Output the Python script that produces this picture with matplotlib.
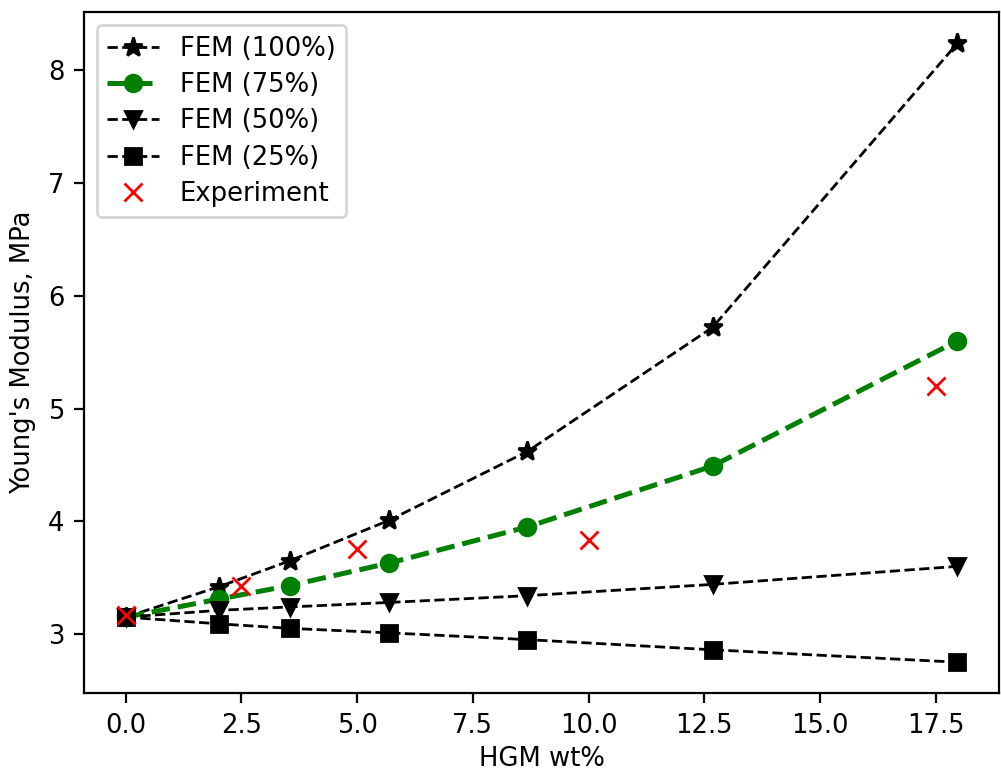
import matplotlib
matplotlib.use("Agg")
import matplotlib.pyplot as plt

# HGM content (wt%) for the FEM runs
x_fem = [0, 2.02, 3.55, 5.7, 8.68, 12.68, 17.97]

# FEM predictions of Young's modulus (MPa)
fem_100 = [3.15, 3.42, 3.65, 4.01, 4.62, 5.72, 8.24]
fem_75 = [3.15, 3.31, 3.43, 3.63, 3.95, 4.49, 5.60]
fem_50 = [3.15, 3.21, 3.24, 3.28, 3.34, 3.44, 3.60]
fem_25 = [3.15, 3.09, 3.05, 3.01, 2.95, 2.86, 2.75]

# experimental measurements
x_exp = [0, 2.5, 5.0, 10.0, 17.5]
y_exp = [3.17, 3.43, 3.75, 3.83, 5.20]

plt.rcParams["font.size"] = 9.3

fig = plt.figure(figsize=(5.005, 3.855), dpi=200)
ax = fig.add_axes([0.084, 0.101, 0.914, 0.883])

ax.plot(x_fem, fem_100, "k--*", lw=1, ms=7, label="FEM (100%)")
ax.plot(x_fem, fem_75, "g--o", lw=1.8, ms=6, label="FEM (75%)")
ax.plot(x_fem, fem_50, "k--v", lw=1, ms=6, label="FEM (50%)")
ax.plot(x_fem, fem_25, "k--s", lw=1, ms=5.5, label="FEM (25%)")
ax.plot(x_exp, y_exp, "rx", ms=6.5, mew=1, linestyle="none", label="Experiment")

ax.set_xlabel("HGM wt%", labelpad=2.6)
ax.set_ylabel("Young's Modulus, MPa", labelpad=4.5)
ax.legend(loc="upper left", labelspacing=0.4)

fig.savefig("out.png", dpi=200)
